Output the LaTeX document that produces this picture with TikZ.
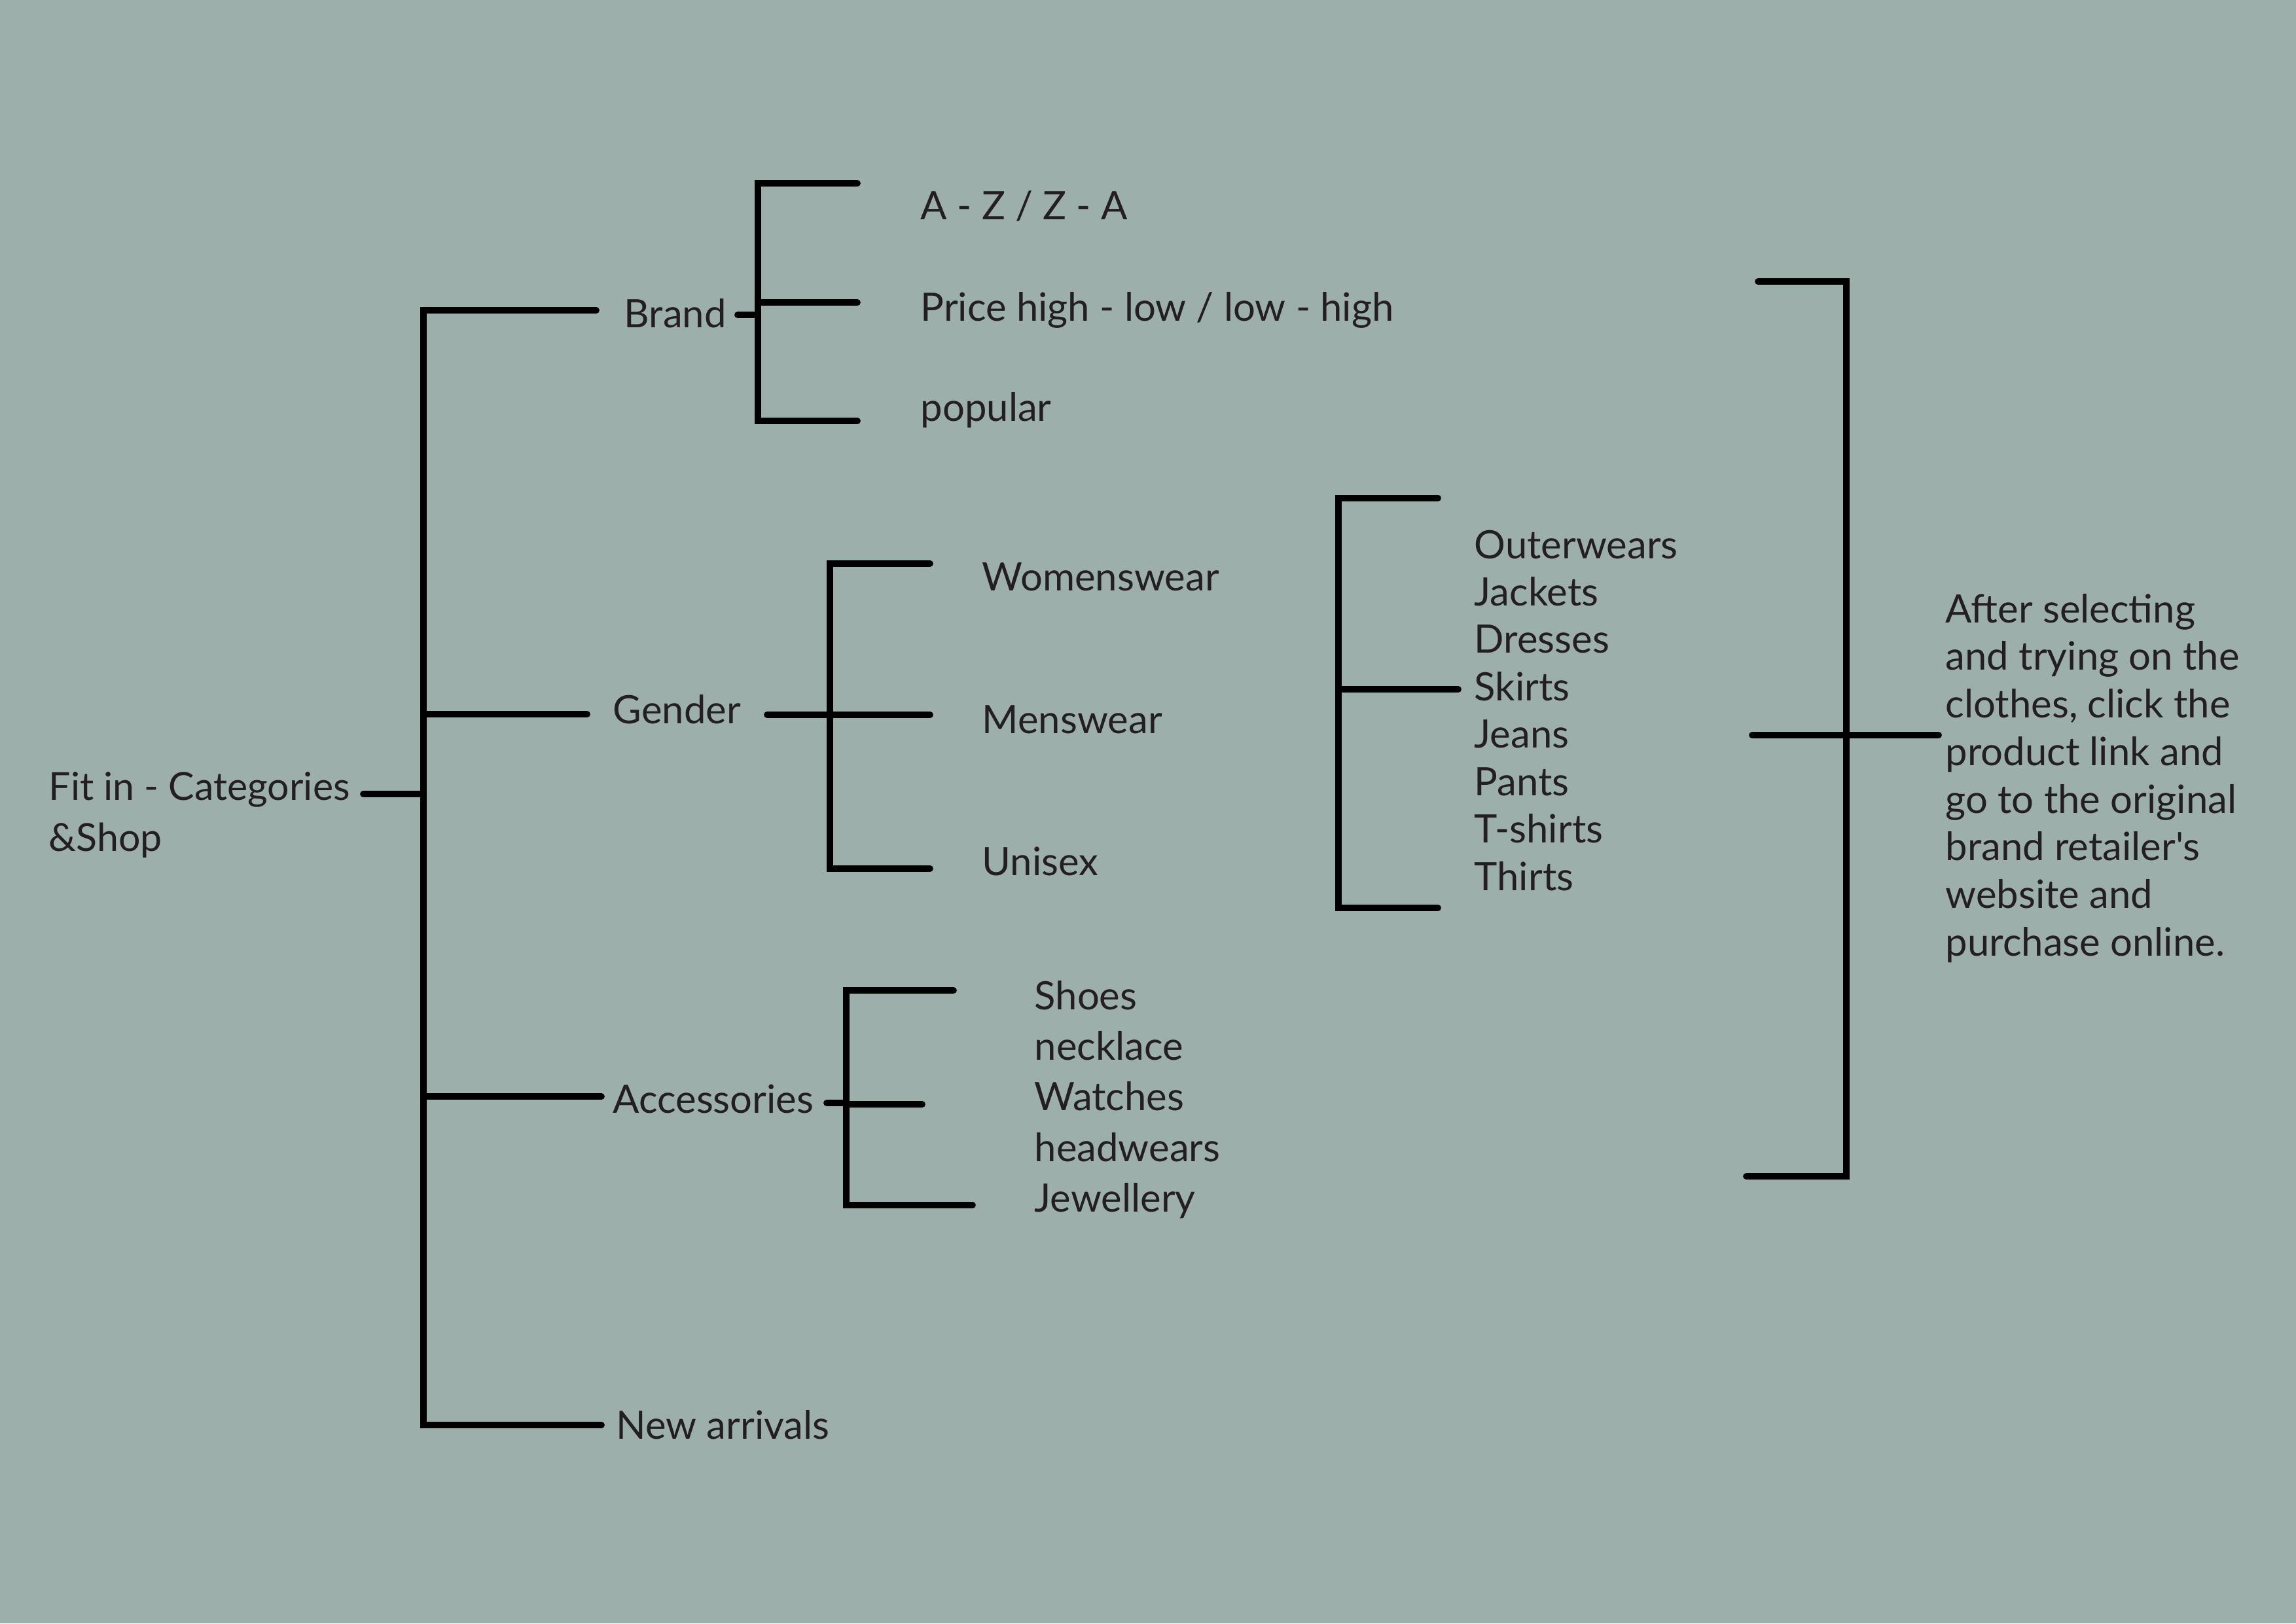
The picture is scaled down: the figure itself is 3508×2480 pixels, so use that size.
\documentclass[tikz,border=0pt]{standalone}
\usepackage{fontspec}
\newfontfamily\plainlato{Lato}
\setmainfont{Lato}
\definecolor{bg}{RGB}{156,175,170}
\definecolor{ink}{RGB}{35,31,32}
\begin{document}
\begin{tikzpicture}[x=0.01cm,y=-0.01cm,
  conn/.style={line width=2.8pt, line cap=round, line join=miter, draw=black},
  lbl/.style={anchor=base west, inner sep=0pt, text=ink, font=\plainlato\fontsize{17}{21}\selectfont},
  listlbl/.style={anchor=base west, inner sep=0pt, text=ink},
]
\fill[bg] (0,0) rectangle (3508,2480);
\useasboundingbox (0,0) rectangle (3508,2480);

% ---- text nodes ----
\node[listlbl, font=\plainlato\fontsize{16.8}{22.2}\selectfont] (root) at (74,1222)
  {\begin{tabular}[t]{@{}l@{}}Fit in - Categories\\ \&Shop\end{tabular}};
\node[lbl] (brand) at (953,500) {Brand};
\node[lbl] (gender) at (936,1105) {Gender};
\node[lbl] (acc) at (936,1700) {Accessories};
\node[lbl] (newarr) at (941,2198) {New arrivals};

\node[lbl] (aza) at (1406,335) {A - Z / Z - A};
\node[lbl] (price) at (1406,490) {Price high - low / low - high};
\node[lbl] (popular) at (1406,643) {popular};

\node[lbl] (women) at (1500,902) {Womenswear};
\node[lbl] (men) at (1500,1120) {Menswear};
\node[lbl] (unisex) at (1500,1337) {Unisex};

\node[listlbl, font=\plainlato\fontsize{17}{22}\selectfont] (accitems) at (1580,1542)
  {\begin{tabular}[t]{@{}l@{}}Shoes\\ necklace\\ Watches\\ headwears\\ Jewellery\end{tabular}};

\node[listlbl, font=\plainlato\fontsize{17}{20.6}\selectfont] (clothes) at (2252,853)
  {\begin{tabular}[t]{@{}l@{}}Outerwears\\ Jackets\\ Dresses\\ Skirts\\ Jeans\\ Pants\\ T-shirts\\ Thirts\end{tabular}};

\node[listlbl, font=\plainlato\fontsize{17}{20.7}\selectfont] (final) at (2972,951)
  {\begin{tabular}[t]{@{}l@{}}After selecting\\ and trying on the\\ clothes, click the\\ product link and\\ go to the original\\ brand retailer's\\ website and\\ purchase online.\end{tabular}};

% ---- main bracket ----
\coordinate (mTop) at (647,474);
\coordinate (mBot) at (647,2177);
\coordinate (mRoot) at (647,1213);
\coordinate (rootEnd) at (555,1213);
\coordinate (mGender) at (647,1091);
\coordinate (mAcc) at (647,1675);
\coordinate (brandIn) at (911,474);
\coordinate (genderIn) at (897,1091);
\coordinate (accIn) at (919,1675);
\coordinate (newIn) at (919,2177);
\draw[conn] (brandIn) -- (mTop) -- (mBot) -- (newIn);
\draw[conn] (rootEnd) -- (mRoot);
\draw[conn] (mGender) -- (genderIn);
\draw[conn] (mAcc) -- (accIn);

% ---- brand bracket ----
\coordinate (bTop) at (1158,280);
\coordinate (bBot) at (1158,643);
\coordinate (bTopEnd) at (1310,280);
\coordinate (bMid) at (1158,462);
\coordinate (bMidEnd) at (1310,462);
\coordinate (bBotEnd) at (1310,643);
\coordinate (bStubA) at (1127,481);
\coordinate (bStubB) at (1158,481);
\draw[conn] (bTopEnd) -- (bTop) -- (bBot) -- (bBotEnd);
\draw[conn] (bMid) -- (bMidEnd);
\draw[conn] (bStubA) -- (bStubB);

% ---- gender bracket ----
\coordinate (gTop) at (1268,861);
\coordinate (gBot) at (1268,1327);
\coordinate (gTopEnd) at (1421,861);
\coordinate (gBotEnd) at (1421,1327);
\coordinate (gMid) at (1268,1092);
\coordinate (gMidEnd) at (1421,1092);
\coordinate (gStubA) at (1172,1092);
\draw[conn] (gTopEnd) -- (gTop) -- (gBot) -- (gBotEnd);
\draw[conn] (gStubA) -- (gMid) -- (gMidEnd);

% ---- accessories bracket ----
\coordinate (aTop) at (1293,1513);
\coordinate (aBot) at (1293,1841);
\coordinate (aTopEnd) at (1457,1513);
\coordinate (aBotEnd) at (1486,1841);
\coordinate (aMid) at (1293,1687);
\coordinate (aMidEnd) at (1409,1687);
\coordinate (aStubA) at (1263,1685);
\coordinate (aStubB) at (1293,1685);
\draw[conn] (aTopEnd) -- (aTop) -- (aBot) -- (aBotEnd);
\draw[conn] (aMid) -- (aMidEnd);
\draw[conn] (aStubA) -- (aStubB);

% ---- clothes bracket ----
\coordinate (cTop) at (2045,761);
\coordinate (cBot) at (2045,1387);
\coordinate (cTopEnd) at (2197,761);
\coordinate (cBotEnd) at (2197,1387);
\coordinate (cMid) at (2045,1053);
\coordinate (cMidEnd) at (2228,1053);
\draw[conn] (cTopEnd) -- (cTop) -- (cBot) -- (cBotEnd);
\draw[conn] (cMid) -- (cMidEnd);

% ---- final bracket ----
\coordinate (fTop) at (2821,430);
\coordinate (fBot) at (2821,1797);
\coordinate (fTopStart) at (2686,430);
\coordinate (fBotStart) at (2668,1797);
\coordinate (fMidStart) at (2677,1123);
\coordinate (fMidEnd) at (2962,1123);
\draw[conn] (fTopStart) -- (fTop) -- (fBot) -- (fBotStart);
\draw[conn] (fMidStart) -- (fMidEnd);
\end{tikzpicture}
\end{document}
